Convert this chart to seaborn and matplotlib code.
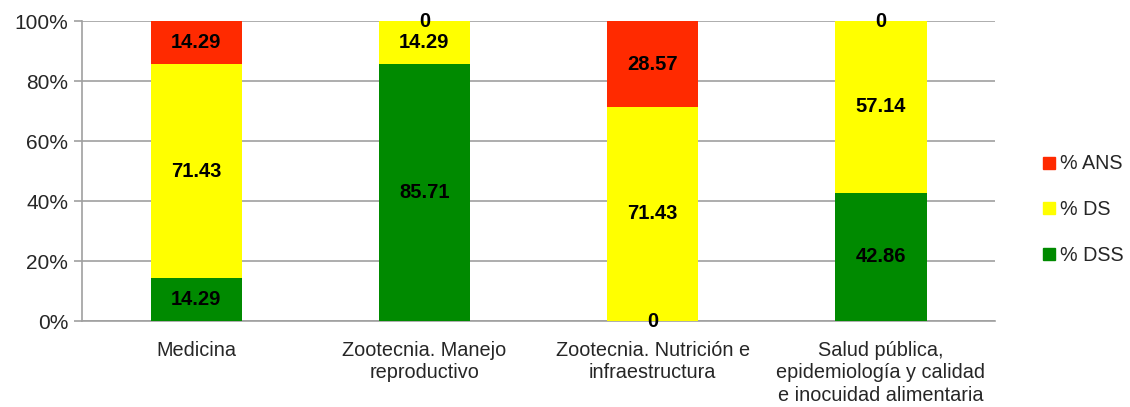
import numpy as np
import pandas as pd
import matplotlib
matplotlib.use("Agg")
import matplotlib.pyplot as plt
import seaborn as sns
from matplotlib.lines import Line2D
from matplotlib.ticker import FuncFormatter

# Datos
categorias = ["Medicina", "Zootecnia. Manejo\nreproductivo",
              "Zootecnia. Nutrición e\ninfraestructura",
              "Salud pública,\nepidemiología y calidad\ne inocuidad alimentaria"]
dss = [14.29, 85.71, 0, 42.86]
ds = [71.43, 14.29, 71.43, 57.14]
ans = [14.29, 0, 28.57, 0]

colores = {"% ANS": "#FF2A00", "% DS": "#FFFF00", "% DSS": "#008A00"}

sns.set_style("white")
plt.rcParams["font.family"] = ["Liberation Sans", "DejaVu Sans"]

df = pd.DataFrame({"cat": categorias, "DSS": dss, "DS": ds, "ANS": ans})
df["tope_ds"] = df["DSS"] + df["DS"]
df["tope_ans"] = df["tope_ds"] + df["ANS"]

fig = plt.figure(figsize=(11.30, 4.07), dpi=100)
ax = fig.add_axes([0.0726, 0.211, 0.808, 0.737])

# barras apiladas (de mayor a menor)
for col, nombre in [("tope_ans", "% ANS"), ("tope_ds", "% DS"), ("DSS", "% DSS")]:
    sns.barplot(data=df, x="cat", y=col, color=colores[nombre], width=0.4,
                saturation=1, ax=ax, zorder=3, linewidth=0, edgecolor="none")

# etiquetas
for i, row in df.iterrows():
    centros = [row["DSS"] / 2, row["DSS"] + row["DS"] / 2, row["tope_ds"] + row["ANS"] / 2]
    for v, c in zip([row["DSS"], row["DS"], row["ANS"]], centros):
        txt = "0" if v == 0 else f"{v:.2f}"
        ax.text(i, c, txt, ha="center", va="center", fontsize=14.5,
                fontweight="bold", color="black", zorder=5, clip_on=False)

ax.set_ylim(0, 100)
ax.set_xlim(-0.5, 3.5)
ax.set_yticks(np.arange(0, 101, 20))
ax.yaxis.set_major_formatter(FuncFormatter(lambda v, p: f"{v:.0f}%"))
ax.yaxis.grid(True, color="#A0A0A0", linewidth=1.2, zorder=0)
ax.set_axisbelow(True)
ax.set_xlabel("")
ax.set_ylabel("")

for s in ["top", "right"]:
    ax.spines[s].set_visible(False)
for s in ["left", "bottom"]:
    ax.spines[s].set_color("#A0A0A0")
    ax.spines[s].set_linewidth(1.2)

ax.set_xticks([0, 1, 2, 3])
ax.set_xticklabels(categorias, fontsize=14.3, linespacing=1.25)
ax.tick_params(axis="x", length=0, pad=14)
ax.set_xticks([-0.5, 0.5, 1.5, 2.5, 3.5], minor=True)
ax.tick_params(axis="x", which="minor", length=6, color="#A0A0A0", width=1.2)
ax.tick_params(axis="y", length=6, color="#A0A0A0", width=1.2, labelsize=15, pad=4)
ax.yaxis.set_ticks_position("left")

handles = [Line2D([0], [0], marker="s", linestyle="none", markersize=8.5,
                  markerfacecolor=c, markeredgecolor=c) for c in colores.values()]
fig.legend(handles, list(colores.keys()), loc="center left",
           bbox_to_anchor=(0.9035, 0.485), frameon=False, fontsize=14.2,
           labelspacing=1.35, handletextpad=0.1, handlelength=1.0)

fig.savefig("out.png", dpi=100)
